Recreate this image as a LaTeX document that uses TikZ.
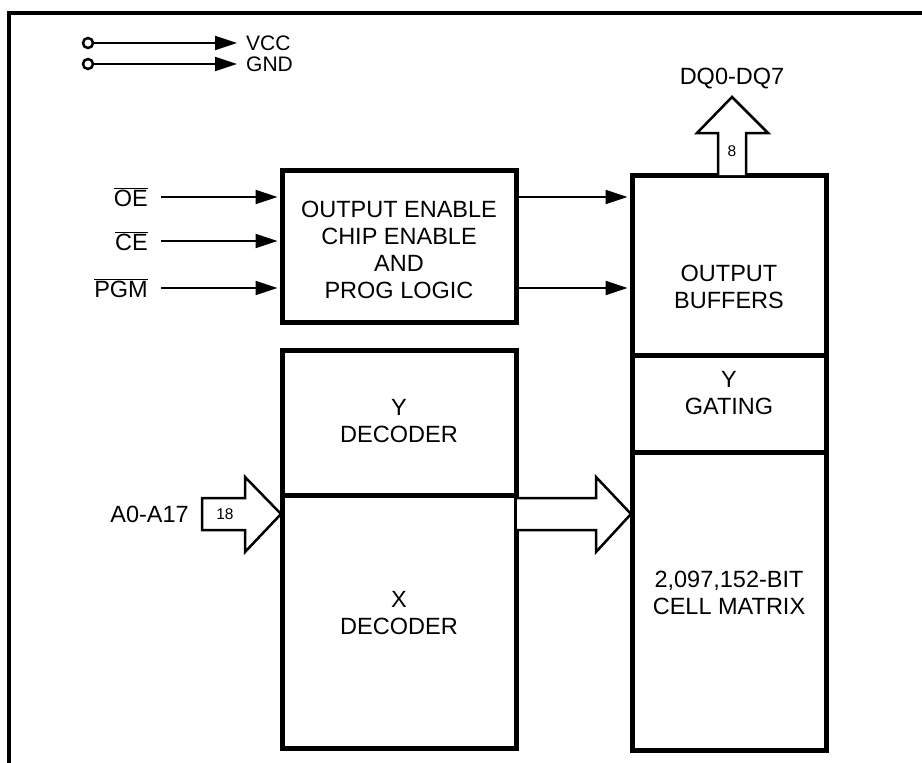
\documentclass[tikz,border=0pt]{standalone}
\usepackage{fontspec}
\setmainfont{Liberation Sans}
\usetikzlibrary{arrows.meta}

\begin{document}
\begin{tikzpicture}[x=1pt,y=-1pt,
    txt/.style={font=\fontsize{23.5}{27}\selectfont,align=center,inner sep=0pt},
    small/.style={font=\fontsize{15.5}{17}\selectfont,inner sep=0pt},
    blk/.style={draw,line width=5pt,inner sep=0pt},
    sig/.style={line width=2pt,-{Triangle[length=22pt,width=14pt]}},
    bus/.style={draw,fill=white,line width=2.5pt,line join=miter},
    pin/.style={circle,draw,line width=2.5pt,minimum size=10pt,inner sep=0pt}]
    \useasboundingbox (0,0) rectangle (922,763);

    % outer frame (cut off right and bottom)
    \draw[line width=4pt] (8.7,800) -- (8.7,12.7) -- (930,12.7);

    % supply pins
    \node[pin] (vccpin) at (88,43) {};
    \node[pin] (gndpin) at (88,64) {};
    \coordinate (vcctip) at (237,43);
    \coordinate (gndtip) at (237,64);
    \draw[sig] (vccpin) -- (vcctip);
    \draw[sig] (gndpin) -- (gndtip);
    \node[anchor=west,align=left,inner sep=0pt,font=\fontsize{21}{21}\selectfont] (supply) at (246,53.5) {VCC\\GND};

    % boxes
    \node[blk,minimum width=234pt,minimum height=152pt] (logic) at (399,246) {};
    \node[txt] (logictxt) at (399,250) {OUTPUT ENABLE\\CHIP ENABLE\\AND\\PROG LOGIC};
    \node[blk,minimum width=234pt,minimum height=145pt] (ydec) at (399,422.5) {};
    \node[blk,minimum width=234pt,minimum height=253pt] (xdec) at (399,621.5) {};
    \node[txt] (ydectxt) at (399,421) {Y\\DECODER};
    \node[txt] (xdectxt) at (399,613) {X\\DECODER};
    \node[blk,minimum width=194pt,minimum height=180pt] (obuf) at (729,265) {};
    \node[blk,minimum width=194pt,minimum height=97pt] (ygate) at (729,403.5) {};
    \node[blk,minimum width=194pt,minimum height=298pt] (matrix) at (729,601) {};
    \node[txt] (obuftxt) at (729,287) {OUTPUT\\BUFFERS};
    \node[txt] (ygatetxt) at (729,393) {Y\\GATING};
    \node[txt] (matrixtxt) at (729,593) {2,097,152-BIT\\CELL MATRIX};

    % control inputs
    \coordinate (oein) at (161,197);
    \coordinate (cein) at (161,241);
    \coordinate (pgmin) at (161,288);
    \node[txt,anchor=east] (oe) at (148,197) {$\overline{\mbox{OE}}$};
    \node[txt,anchor=east] (ce) at (148,241) {$\overline{\mbox{CE}}$};
    \node[txt,anchor=east] (pgm) at (148,288) {$\overline{\mbox{PGM}}$};
    \draw[sig,shorten >=2pt] (oein) -- (logic.west |- oein);
    \draw[sig,shorten >=2pt] (cein) -- (logic.west |- cein);
    \draw[sig,shorten >=2pt] (pgmin) -- (logic.west |- pgmin);

    % logic outputs
    \draw[sig,shorten >=2pt] (logic.east |- oein) -- (obuf.west |- oein);
    \draw[sig,shorten >=2pt] (logic.east |- pgmin) -- (obuf.west |- pgmin);

    % data bus out
    \draw[bus] (718,175) -- (718,133) -- (697,133) -- (732,97) -- (768,133)
        -- (746,133) -- (746,175);
    \node[small] (eight) at (732,151) {8};
    \node[txt] (dq) at (732,79) {DQ0-DQ7};

    % address bus in
    \draw[bus] (202,498) -- (245,498) -- (245,477) -- (281,514) -- (245,552)
        -- (245,530) -- (202,530) -- cycle;
    \node[small] (eighteen) at (225,514) {18};
    \node[txt,anchor=east] (addr) at (189,514) {A0-A17};

    % decoder to matrix
    \draw[bus] (517,498) -- (596,498) -- (596,477) -- (631,514) -- (596,552)
        -- (596,530) -- (517,530);
\end{tikzpicture}
\end{document}
